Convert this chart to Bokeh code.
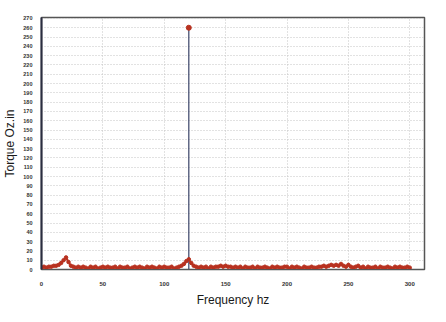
from bokeh.plotting import figure
from bokeh.models import Range1d, FixedTicker
from bokeh.embed import file_html
from bokeh.resources import INLINE

# Frequency (hz) sampled every 2 hz, 0..300
freq = list(range(0, 301, 2))
# Torque (Oz.in) noise floor
torque = [
    2, 3, 2, 3, 3, 4, 4, 5, 7, 10,     # 0-18
    13, 8, 4, 3, 2, 3, 2, 3, 2, 1,     # 20-38
    3, 2, 3, 1, 2, 3, 2, 3, 2, 2,      # 40-58
    3, 1, 3, 2, 2, 3, 1, 2, 3, 2,      # 60-78
    3, 2, 1, 3, 2, 3, 2, 1, 3, 2,      # 80-98
    3, 2, 2, 3, 1, 2, 3, 4, 6, 9,      # 100-118
    11, 7, 4, 3, 2, 3, 2, 3, 1, 3,     # 120-138
    2, 3, 3, 4, 3, 4, 3, 3, 2, 3,      # 140-158
    2, 3, 1, 3, 2, 2, 3, 1, 3, 2,      # 160-178
    2, 3, 2, 1, 3, 2, 3, 2, 2, 3,      # 180-198
    3, 1, 3, 2, 3, 2, 1, 3, 2, 2,      # 200-218
    3, 2, 2, 3, 3, 4, 3, 4, 5, 4,      # 220-238
    5, 4, 6, 4, 3, 5, 3, 2, 3, 4,      # 240-258
    2, 3, 1, 3, 2, 2, 3, 1, 3, 2,      # 260-278
    2, 3, 2, 1, 3, 2, 3, 2, 2, 3,      # 280-298
    2,                                 # 300
]
# Dominant peak
peak_freq = [120]
peak_torque = [260]

y_ticks = list(range(0, 271, 10))
x_ticks = [0, 50, 100, 150, 200, 250, 300]

p = figure(width=438, height=314, output_backend="svg", toolbar_location=None,
           x_range=Range1d(0, 312), y_range=Range1d(0, 271),
           min_border_left=35, min_border_right=14, min_border_top=17, min_border_bottom=45)

p.background_fill_color = "white"
p.border_fill_color = "white"
p.outline_line_color = "#555555"
p.outline_line_width = 1.5

p.xgrid.grid_line_color = "#c4c4c4"
p.xgrid.grid_line_dash = "1 2"
p.ygrid.grid_line_color = "#c4c4c4"
p.ygrid.grid_line_dash = "1 2"

p.segment(x0=peak_freq, y0=[0], x1=peak_freq, y1=peak_torque,
          line_color="#3a4468", line_width=1.2)
p.line(freq, torque, line_color="#b83220", line_width=2)
p.scatter(freq, torque, size=3.5, fill_color="#b83220", line_color="#b83220")
p.scatter(peak_freq, peak_torque, size=5, fill_color="#b83220", line_color="#b83220")

p.xaxis.ticker = FixedTicker(ticks=x_ticks)
p.yaxis.ticker = FixedTicker(ticks=y_ticks)

for ax in (p.xaxis, p.yaxis):
    ax.major_tick_line_color = None
    ax.minor_tick_line_color = None
    ax.major_label_text_font = "Liberation Sans"
    ax.major_label_text_font_style = "bold"
    ax.major_label_text_color = "#333333"
    ax.axis_label_text_font = "Liberation Sans"
    ax.axis_label_text_font_style = "normal"
    ax.axis_label_text_color = "#1a1a1a"
    ax.axis_label_text_font_size = "12px"

p.yaxis.axis_line_color = "#2a2d40"
p.yaxis.axis_line_width = 2
p.xaxis.axis_line_color = "#555555"
p.xaxis.major_label_text_font_size = "6px"
p.yaxis.major_label_text_font_size = "5.5px"
p.yaxis.major_label_standoff = 3
p.xaxis.major_label_standoff = 6
p.xaxis.axis_label = "Frequency hz"
p.yaxis.axis_label = "Torque Oz.in"
p.xaxis.axis_label_standoff = 4
p.yaxis.axis_label_standoff = 3

open("out.html", "w").write(file_html(p, INLINE))
